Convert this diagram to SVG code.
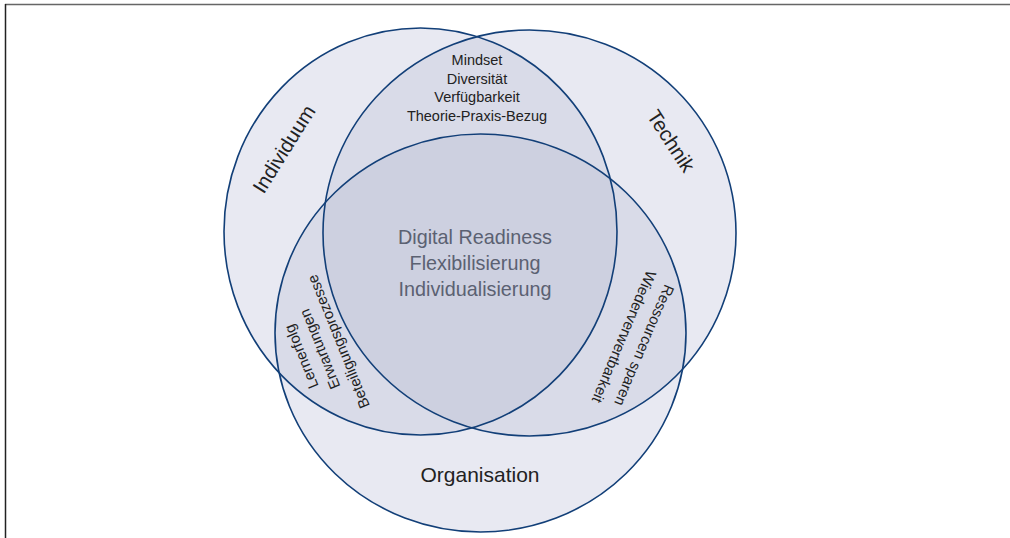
<svg xmlns="http://www.w3.org/2000/svg" width="1010" height="538" viewBox="0 0 1010 538">
<style>
.t{font-family:"Liberation Sans","Open Sans",sans-serif;fill:#222;}
.c{fill:#5b6172;}
.ring{fill:none;stroke:#123f78;stroke-width:1.6;}
</style>
<defs>
<clipPath id="cA"><ellipse cx="420.5" cy="231.5" rx="196.5" ry="203.5"/></clipPath>
<clipPath id="cB"><ellipse cx="529.5" cy="233" rx="206.5" ry="203"/></clipPath>
<clipPath id="cC"><ellipse cx="480.5" cy="333" rx="205.5" ry="199"/></clipPath>
</defs>
<rect width="1010" height="538" fill="#fff"/>
<line x1="5" y1="4.5" x2="1010" y2="4.5" stroke="#666" stroke-width="1.5"/>
<line x1="5.5" y1="4" x2="5.5" y2="538" stroke="#222" stroke-width="1.5"/>
<g id="fills">
<ellipse cx="420.5" cy="231.5" rx="196.5" ry="203.5" fill="#e8e9f2"/>
<ellipse cx="529.5" cy="233" rx="206.5" ry="203" fill="#e8e9f2"/>
<ellipse cx="480.5" cy="333" rx="205.5" ry="199" fill="#e8e9f2"/>
<ellipse cx="420.5" cy="231.5" rx="196.5" ry="203.5" fill="#d9dbe8" clip-path="url(#cB)"/>
<ellipse cx="420.5" cy="231.5" rx="196.5" ry="203.5" fill="#d9dbe8" clip-path="url(#cC)"/>
<ellipse cx="529.5" cy="233" rx="206.5" ry="203" fill="#d9dbe8" clip-path="url(#cC)"/>
<g clip-path="url(#cC)"><ellipse cx="420.5" cy="231.5" rx="196.5" ry="203.5" fill="#cdd0e0" clip-path="url(#cB)"/></g>
</g>
<g id="individuum">
<ellipse class="ring" cx="420.5" cy="231.5" rx="196.5" ry="203.5"/>
<text class="t" font-size="20.5" text-anchor="middle" transform="translate(284,149) rotate(-58)" y="7">Individuum</text>
</g>
<g id="technik">
<ellipse class="ring" cx="529.5" cy="233" rx="206.5" ry="203"/>
<text class="t" font-size="20.5" text-anchor="middle" transform="translate(671,141) rotate(57)" y="7">Technik</text>
</g>
<g id="organisation">
<ellipse class="ring" cx="480.5" cy="333" rx="205.5" ry="199"/>
<text class="t" font-size="21" text-anchor="middle" x="480" y="482">Organisation</text>
</g>
<g id="top-overlap">
<text class="t" font-size="14.5" text-anchor="middle" x="477" y="65">Mindset</text>
<text class="t" font-size="14.5" text-anchor="middle" x="477" y="83.5">Diversität</text>
<text class="t" font-size="14.5" text-anchor="middle" x="477" y="102">Verfügbarkeit</text>
<text class="t" font-size="14.5" text-anchor="middle" x="477" y="121">Theorie-Praxis-Bezug</text>
</g>
<g id="center">
<text class="t c" font-size="19.8" text-anchor="middle" x="475" y="244">Digital Readiness</text>
<text class="t c" font-size="19.8" text-anchor="middle" x="475" y="270">Flexibilisierung</text>
<text class="t c" font-size="19.8" text-anchor="middle" x="475" y="296">Individualisierung</text>
</g>
<g id="left-overlap" transform="translate(320,349) rotate(-112)">
<text class="t" font-size="15" text-anchor="middle" y="-15">Lernerfolg</text>
<text class="t" font-size="15" text-anchor="middle" y="5">Erwartungen</text>
<text class="t" font-size="15" text-anchor="middle" y="25">Beteiligungsprozesse</text>
</g>
<g id="right-overlap" transform="translate(634,341) rotate(113)">
<text class="t" font-size="15" text-anchor="middle" y="-6">Ressourcen sparen</text>
<text class="t" font-size="15" text-anchor="middle" y="16">Wiederverwertbarkeit</text>
</g>
<g id="connectors"></g>
</svg>
